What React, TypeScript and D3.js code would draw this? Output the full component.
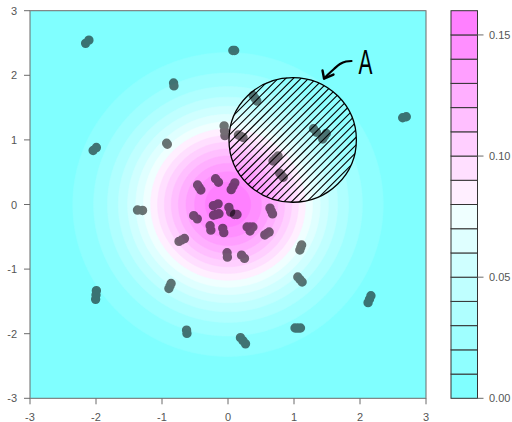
import { useMemo } from 'react';
import * as d3 from 'd3';

const width = 512;
const height = 422;

// contour levels (also the colour key breaks)
const levels = [0, 0.01, 0.02, 0.03, 0.04, 0.05, 0.06, 0.07, 0.08, 0.09, 0.1, 0.11, 0.12, 0.13, 0.14, 0.15, 0.16];
const bandColors = [
    '#80FFFF', '#8FFFFF', '#9FFFFF', '#AFFFFF', '#BFFFFF', '#CFFFFF', '#DFFFFF', '#EFFFFF',
    '#FFEFFF', '#FFDFFF', '#FFCFFF', '#FFBFFF', '#FFAFFF', '#FF9FFF', '#FF8FFF', '#FF80FF'
];
const axisTicks = [-3, -2, -1, 0, 1, 2, 3];
const keyTicks = [0, 0.05, 0.1, 0.15];
const keyLabels = ['0.00', '0.05', '0.10', '0.15'];

// each point is drawn as a short smudge through these positions
const points: [number, number][][] = [
    [[-2.167, 2.485], [-2.098, 2.554]],
    [[0.068, 2.384], [0.106, 2.384]],
    [[-0.826, 1.889], [-0.818, 1.827]],
    [[-2.053, 0.828], [-1.985, 0.89]],
    [[-0.932, 0.952], [-0.917, 0.929]],
    [[-0.061, 1.246], [-0.045, 1.037]],
    [[0.144, 1.084], [0.242, 1.029]],
    [[0.371, 1.703], [0.447, 1.587]],
    [[2.636, 1.339], [2.712, 1.362]],
    [[1.288, 1.184], [1.348, 1.107]],
    [[1.5, 1.115], [1.424, 0.998]],
    [[0.667, 0.658], [0.773, 0.766]],
    [[0.773, 0.495], [0.848, 0.41]],
    [[-1.386, -0.085], [-1.28, -0.093]],
    [[-0.47, 0.317], [-0.402, 0.209]],
    [[-0.197, 0.41], [-0.136, 0.333]],
    [[0.114, 0.356], [0.038, 0.209]],
    [[-0.235, -0.023], [-0.136, 0.015]],
    [[0.008, -0.031], [0.045, -0.132]],
    [[0.091, -0.155], [0.144, -0.155]],
    [[-0.235, -0.17], [-0.121, -0.139]],
    [[-0.53, -0.163], [-0.455, -0.232]],
    [[-0.273, -0.317], [-0.258, -0.41]],
    [[-0.083, -0.356], [-0.061, -0.449]],
    [[0.273, -0.341], [0.394, -0.341], [0.333, -0.426]],
    [[0.629, -0.039], [0.682, -0.163]],
    [[0.545, -0.48], [0.636, -0.418]],
    [[-0.758, -0.58], [-0.644, -0.519]],
    [[-0.015, -0.735], [-0.008, -0.828]],
    [[0.197, -0.774], [0.258, -0.844]],
    [[1.121, -0.611], [1.083, -0.72]],
    [[1.045, -1.107], [1.136, -1.215]],
    [[2.174, -1.393], [2.114, -1.54]],
    [[1.0, -1.912], [1.114, -1.912]],
    [[-0.856, -1.207], [-0.902, -1.316]],
    [[-0.629, -1.935], [-0.621, -2.005]],
    [[0.174, -2.043], [0.28, -2.175]],
    [[-1.992, -1.308], [-2.008, -1.494]]
];

// hatched region "A"
const regionCenter: [number, number] = [0.98, 1.0];
const regionRadius = 0.965;
const arrowCurve: [number, number][] = [[1.871, 2.221], [1.788, 2.214], [1.697, 2.175], [1.606, 2.098], [1.515, 2.012], [1.455, 1.95]];
const arrowHead: [number, number][] = [[1.432, 2.074], [1.455, 1.95], [1.598, 2.012]];
const labelPos: [number, number] = [2.083, 2.025];

const x = d3.scaleLinear().domain([-3, 3]).range([30, 426]);
const y = d3.scaleLinear().domain([-3, 3]).range([398.3, 10.7]);
const keyY = d3.scaleLinear().domain([0, 0.16]).range([398.3, 10.7]);
const keyX0 = 451;
const keyX1 = 477.5;

const gridN = 150;

export default function App() {
    const contours = useMemo(() => {
        // bivariate standard normal density on a grid
        const values = new Array(gridN * gridN);
        for (let j = 0; j < gridN; j++) {
            for (let i = 0; i < gridN; i++) {
                const gx = -3 + ((i + 0.5) * 6) / gridN;
                const gy = 3 - ((j + 0.5) * 6) / gridN;
                values[j * gridN + i] = Math.exp(-(gx * gx + gy * gy) / 2) / (2 * Math.PI);
            }
        }
        return d3.contours().size([gridN, gridN]).thresholds(levels.slice(0, -1))(values);
    }, []);

    const path = d3.geoPath(
        d3.geoTransform({
            point(px: number, py: number) {
                this.stream.point(x(-3 + (px * 6) / gridN), y(3 - (py * 6) / gridN));
            }
        })
    );

    const r = 4.7;
    const blob = (pts: [number, number][]) => {
        const raw = pts.map(([a, b]) => [x(a), y(b)]);
        const mx = d3.mean(raw, (c) => c[0]) as number;
        const my = d3.mean(raw, (c) => c[1]) as number;
        // pull the smudge ends in a little, the pen is wider than the measured ends
        const cs = raw.map(([a, b]) => [mx + (a - mx) * 0.72, my + (b - my) * 0.72]);
        const all: number[][] = [];
        cs.forEach((c, i) => {
            all.push(c);
            if (i > 0) {
                const p = cs[i - 1];
                const d = Math.hypot(c[0] - p[0], c[1] - p[1]);
                if (d > 1.1 * r) all.push([(c[0] + p[0]) / 2, (c[1] + p[1]) / 2]);
            }
        });
        return all
            .map(([cx, cy]) => `M${cx - r},${cy}a${r},${r} 0 1,0 ${2 * r},0a${r},${r} 0 1,0 ${-2 * r},0Z`)
            .join('');
    };

    const cx = x(regionCenter[0]);
    const cy = y(regionCenter[1]);
    const rx = x(regionCenter[0] + regionRadius) - cx;
    const ry = cy - y(regionCenter[1] + regionRadius);
    const hatchStep = 7.6;
    const hatch = d3.range(-12, 13).map((k) => cx + cy + k * hatchStep);

    const line = d3.line().curve(d3.curveCatmullRom);
    const toPx = (pts: [number, number][]) => pts.map(([a, b]) => [x(a), y(b)] as [number, number]);

    const font = '"Liberation Sans", Arial, sans-serif';
    const textColor = '#555';
    const axisColor = '#6b6b6b';

    return (
        <svg
            width={width}
            height={height}
            viewBox={`0 0 ${width} ${height}`}
            style={{ position: 'absolute', left: 0, top: 0, background: '#fff' }}
            fontFamily={font}
        >
            <defs>
                <clipPath id="plot-clip">
                    <rect x={x(-3)} y={y(3)} width={x(3) - x(-3)} height={y(-3) - y(3)} />
                </clipPath>
                <clipPath id="region-clip">
                    <ellipse cx={cx} cy={cy} rx={rx} ry={ry} />
                </clipPath>
            </defs>

            {/* filled contours */}
            <g clipPath="url(#plot-clip)">
                {contours.map((c, i) => (
                    <path key={i} d={path(c) || ''} fill={bandColors[i]} stroke={bandColors[i]} strokeWidth={0.5} />
                ))}
            </g>

            {/* points */}
            <g clipPath="url(#plot-clip)">
                {points.map((p, i) => (
                    <path key={i} d={blob(p)} fill="#000" fillOpacity={0.55} />
                ))}
            </g>

            {/* hatched circle */}
            <g clipPath="url(#region-clip)">
                {hatch.map((c, i) => (
                    <line key={i} x1={c - 300} y1={300} x2={c + 300} y2={-300} stroke="#000" strokeWidth={1.1} />
                ))}
            </g>
            <ellipse cx={cx} cy={cy} rx={rx} ry={ry} fill="none" stroke="#000" strokeWidth={1.3} />

            {/* annotation */}
            <path
                d={line(toPx(arrowCurve)) || ''}
                fill="none"
                stroke="#000"
                strokeWidth={2.2}
                strokeLinecap="round"
            />
            <path
                d={d3.line()(toPx(arrowHead)) || ''}
                fill="none"
                stroke="#000"
                strokeWidth={2.4}
                strokeLinecap="round"
                strokeLinejoin="round"
            />
            <text
                transform={`translate(${x(labelPos[0])},${y(labelPos[1])}) scale(0.58,1)`}
                textAnchor="middle"
                fontSize={36}
                fill="#000"
            >
                A
            </text>

            {/* plot frame and axes */}
            <rect
                x={x(-3)}
                y={y(3)}
                width={x(3) - x(-3)}
                height={y(-3) - y(3)}
                fill="none"
                stroke={axisColor}
                strokeWidth={1}
            />
            {axisTicks.map((t) => (
                <g key={`y${t}`}>
                    <line x1={x(-3) - 6} x2={x(-3)} y1={y(t)} y2={y(t)} stroke={axisColor} />
                    <text x={17} y={y(t) + 4} textAnchor="end" fontSize={11} fill={textColor}>
                        {t}
                    </text>
                </g>
            ))}
            {axisTicks.map((t) => (
                <g key={`x${t}`}>
                    <line x1={x(t)} x2={x(t)} y1={y(-3)} y2={y(-3) + 6} stroke={axisColor} />
                    <text x={x(t)} y={421} textAnchor="middle" fontSize={11} fill={textColor}>
                        {t}
                    </text>
                </g>
            ))}

            {/* colour key */}
            {bandColors.map((col, i) => (
                <rect
                    key={i}
                    x={keyX0}
                    y={keyY(levels[i + 1])}
                    width={keyX1 - keyX0}
                    height={keyY(levels[i]) - keyY(levels[i + 1])}
                    fill={col}
                    stroke="#333"
                    strokeWidth={1}
                />
            ))}
            {keyTicks.map((t, i) => (
                <g key={`k${t}`}>
                    <line x1={keyX1} x2={keyX1 + 6} y1={keyY(t)} y2={keyY(t)} stroke={axisColor} />
                    <text x={489} y={keyY(t) + 4} fontSize={11} fill={textColor}>
                        {keyLabels[i]}
                    </text>
                </g>
            ))}
        </svg>
    );
}
